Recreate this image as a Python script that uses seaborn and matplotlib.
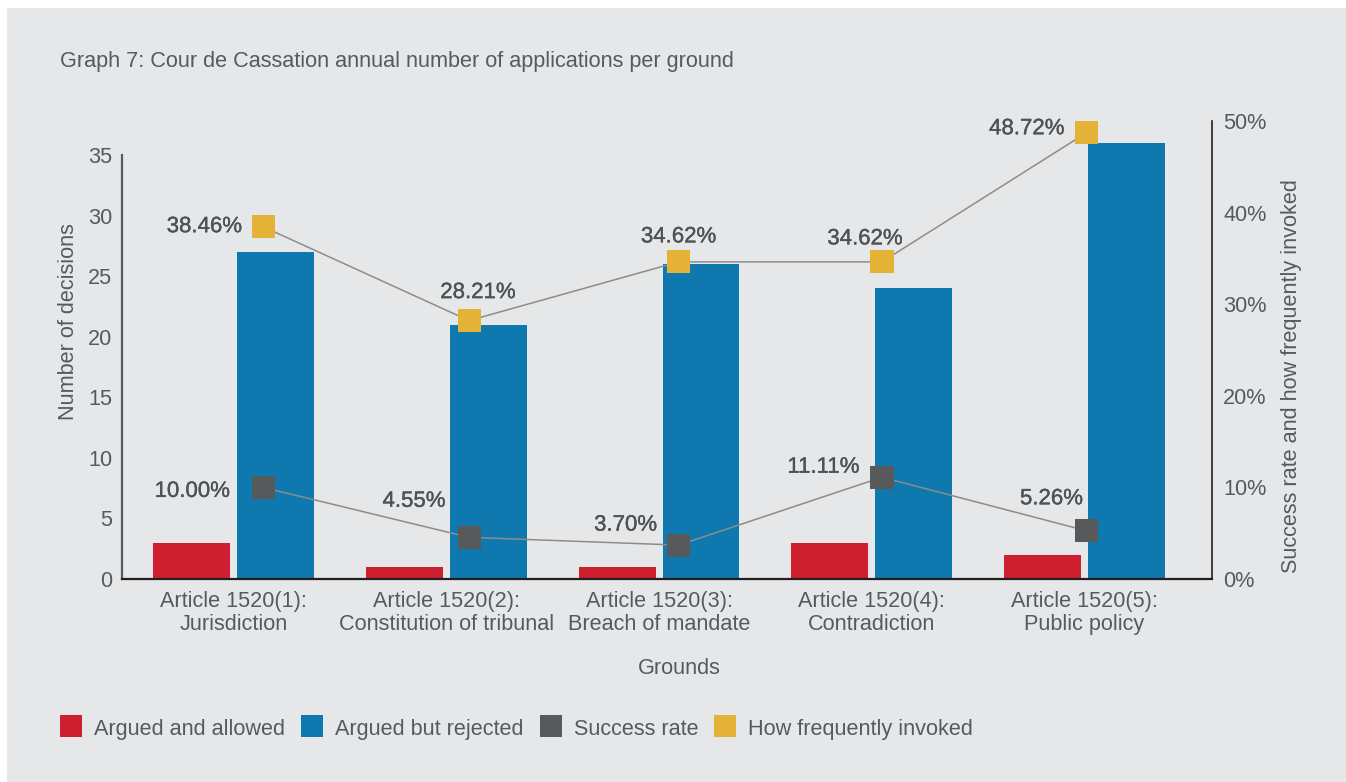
import matplotlib
matplotlib.use("Agg")
import matplotlib.pyplot as plt
import matplotlib.patheffects as pe
import seaborn as sns
import pandas as pd
from matplotlib.patches import Rectangle

# ---------------- data ----------------
grounds = ["Article 1520(1):\nJurisdiction",
           "Article 1520(2):\nConstitution of tribunal",
           "Article 1520(3):\nBreach of mandate",
           "Article 1520(4):\nContradiction",
           "Article 1520(5):\nPublic policy"]
allowed = [3, 1, 1, 3, 2]
rejected = [27, 21, 26, 24, 36]
success_rate = [10.00, 4.55, 3.70, 11.11, 5.26]
freq_invoked = [38.46, 28.21, 34.62, 34.62, 48.72]
left_ticks = [0, 5, 10, 15, 20, 25, 30, 35]
right_ticks = [0, 10, 20, 30, 40, 50]
legend_names = ["Argued and allowed", "Argued but rejected", "Success rate", "How frequently invoked"]

# ---------------- style ----------------
W, H = 1346, 782
BG = "#e6e7e8"
TXT = "#58595b"
RED = "#ce1f30"
BLUE = "#0f78ae"
GRAY = "#58595b"
YEL = "#e4b236"
LINE = "#8c8c8c"
FS = 15.6
marker_shift = [0.139, 0.107, 0.092, 0.048, 0.009]
# label offsets in pixels (dx, dy up) and horizontal alignment
freq_lab = [(-21, 0, "right"), (9, 28, "center"), (0, 25, "center"),
            (-17, 23, "center"), (-22, 4, "right")]
succ_lab = [(-33, -4, "right"), (-55, 36, "center"), (-53, 20, "center"),
            (-22, 10, "right"), (-35, 32, "center")]

sns.set_theme(style="white")
plt.rcParams["font.family"] = ["Liberation Sans", "DejaVu Sans"]
plt.rcParams["text.color"] = TXT

fig = plt.figure(figsize=(W / 100, H / 100), dpi=100, facecolor="white")
fig.patches.append(Rectangle((7 / W, 0), 1, 1 - 8 / H, transform=fig.transFigure,
                             facecolor=BG, edgecolor="none", zorder=-10))

x0, x1 = 122, 1212
y_top, y_bot = 121, 579
ax = fig.add_axes([x0 / W, 1 - y_bot / H, (x1 - x0) / W, (y_bot - y_top) / H])
ax.set_facecolor("none")

df = pd.DataFrame({
    "ground": grounds * 2,
    "count": allowed + rejected,
    "outcome": ["Argued and allowed"] * 5 + ["Argued but rejected"] * 5,
})
sns.barplot(data=df, x="ground", y="count", hue="outcome", palette=[RED, BLUE],
            width=0.789, gap=0.083, saturation=1, legend=False, linewidth=0,
            edgecolor="none", ax=ax)

ax.set_xlim(-0.524, 4.599)
ax.set_ylim(0, (y_bot - y_top) / 12.11)
ax.set_yticks(left_ticks)
ax.set_yticklabels([str(t) for t in left_ticks], fontsize=FS, color=TXT)
ax.tick_params(axis="y", length=0, pad=7)
ax.tick_params(axis="x", length=0, pad=9, labelsize=FS, labelcolor=TXT)
for lab in ax.get_xticklabels():
    lab.set_linespacing(1.08)
ax.set_xlabel("")
ax.set_ylabel("")
for s in ["top", "right"]:
    ax.spines[s].set_visible(False)
ax.spines["left"].set_bounds(0, 35)
ax.spines["left"].set_color(TXT)
ax.spines["left"].set_linewidth(1.6)
ax.spines["bottom"].set_color("#231f20")
ax.spines["bottom"].set_linewidth(1.6)

ax2 = ax.twinx()
ax2.set_ylim(0, 50)
ax2.set_yticks(right_ticks)
ax2.set_yticklabels([f"{t}%" for t in right_ticks], fontsize=FS, color=TXT)
ax2.tick_params(axis="y", length=0, pad=8)
for s in ["top", "left", "bottom"]:
    ax2.spines[s].set_visible(False)
ax2.spines["right"].set_color("#231f20")
ax2.spines["right"].set_linewidth(1.2)

xpos = [i + marker_shift[i] for i in range(len(grounds))]
ldf = pd.DataFrame({"x": xpos * 2, "y": success_rate + freq_invoked,
                    "series": ["Success rate"] * 5 + ["How frequently invoked"] * 5})
sns.lineplot(data=ldf, x="x", y="y", units="series", estimator=None, color=LINE,
             linewidth=1.1, ax=ax2, legend=False, zorder=3)
sns.scatterplot(data=ldf, x="x", y="y", hue="series", palette=[GRAY, YEL],
                marker="s", s=275, linewidth=0, ax=ax2, legend=False, zorder=4)
ax2.set_xlabel("")
ax2.set_ylabel("")

semi = [pe.withStroke(linewidth=0.25, foreground="#505153")]
for vals, labs in [(freq_invoked, freq_lab), (success_rate, succ_lab)]:
    for i, v in enumerate(vals):
        dx, dy, ha = labs[i]
        ax2.annotate(f"{v:.2f}%", (xpos[i], v), xytext=(dx * 0.72, dy * 0.72),
                     textcoords="offset points", ha=ha, va="center",
                     fontsize=FS + 0.4, color="#505153", zorder=5, path_effects=semi)

fig.text(60 / W, 1 - 62 / H, "Graph 7: Cour de Cassation annual number of applications per ground",
         fontsize=FS, color=TXT, ha="left", va="center")
fig.text(68 / W, 1 - 322 / H, "Number of decisions", rotation=90,
         fontsize=FS, color=TXT, ha="center", va="center")
fig.text(1292 / W, 1 - 376 / H, "Success rate and how frequently invoked", rotation=90,
         fontsize=FS, color=TXT, ha="center", va="center")
fig.text(679 / W, 1 - 668 / H, "Grounds", fontsize=FS, color=TXT, ha="center", va="center")

# manual legend (consistent baselines)
renderer = fig.canvas.get_renderer()
lx, ly, sq = 60.0, 726.0, 22.0
for name, col in zip(legend_names, [RED, BLUE, GRAY, YEL]):
    fig.patches.append(Rectangle((lx / W, 1 - (ly + sq / 2) / H), sq / W, sq / H,
                                 transform=fig.transFigure, facecolor=col,
                                 edgecolor="none", zorder=2))
    t = fig.text((lx + sq + 12) / W, 1 - (ly + 1) / H, name, fontsize=FS, color=TXT,
                 ha="left", va="center_baseline")
    wpx = t.get_window_extent(renderer).width
    lx = lx + sq + 12 + wpx + 16

fig.savefig("out.png", dpi=100, facecolor="white")
